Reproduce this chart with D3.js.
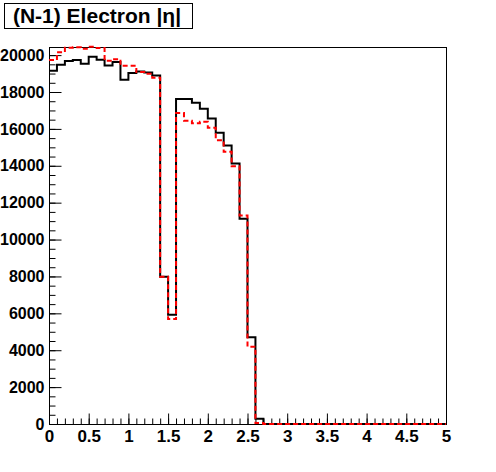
<!DOCTYPE html>
<html>
<head>
<meta charset="utf-8">
<script src="https://cdn.jsdelivr.net/npm/d3@7"></script>
<style>
  body { margin: 0; background: #fff; }
  svg text { font-family: "Liberation Sans", Arial, sans-serif; font-weight: bold; }
</style>
</head>
<body>
<div class="visHolder"></div>
<script>
// Histogram data: 50 bins of width 0.1 from 0 to 5
var binEdgesMin = 0, binEdgesMax = 5, binCount = 50;

var blackCounts = [19150, 19475, 19675, 19730, 19530, 19910, 19745, 19440, 19620, 18660,
  19025, 19115, 19060, 18900, 7985, 5925, 17615, 17615, 17415, 17090,
  16570, 15790, 15105, 14130, 11130, 4700, 290, 0, 0, 0,
  0, 0, 0, 0, 0, 0, 0, 0, 0, 0,
  0, 0, 0, 0, 0, 0, 0, 0, 0, 0];

var redCounts = [19730, 20160, 20400, 20420, 20340, 20450, 20380, 19690, 19780, 19430,
  19430, 19080, 18990, 18770, 7985, 5690, 16860, 16440, 16300, 16385,
  16060, 15390, 14760, 13980, 11310, 4190, 50, 0, 0, 0,
  0, 0, 0, 0, 0, 0, 0, 0, 0, 0,
  0, 0, 0, 0, 0, 0, 0, 0, 0, 0];

var xMajorTicks = [0, 0.5, 1, 1.5, 2, 2.5, 3, 3.5, 4, 4.5, 5];
var yMajorTicks = [0, 2000, 4000, 6000, 8000, 10000, 12000, 14000, 16000, 18000, 20000];
var yMax = 20440;

var titleText = '(N-1) Electron |\u03b7|';

// Frame dimensions (don't call these top/left: window.top is read-only)
var frameL = 49, frameR = 446, frameT = 47, frameB = 424;

var svg = d3.select('.visHolder').
append('svg').
attr('width', 496).
attr('height', 472);

var xScale = d3.scaleLinear().domain([binEdgesMin, binEdgesMax]).range([frameL, frameR]);
var yScale = d3.scaleLinear().domain([0, yMax]).range([frameB, frameT]);

var binWidth = (binEdgesMax - binEdgesMin) / binCount;

// Build the step outline of a histogram (no closing verticals at the frame edges)
function stepPath(counts) {
  var pts = [];
  counts.forEach(function (c, i) {
    var x0 = xScale(binEdgesMin + i * binWidth);
    var x1 = xScale(binEdgesMin + (i + 1) * binWidth);
    pts.push([x0, yScale(c)]);
    pts.push([x1, yScale(c)]);
  });
  return d3.line()(pts);
}

// Frame
svg.append('rect').
attr('x', frameL + 0.5).
attr('y', frameT + 0.5).
attr('width', frameR - frameL).
attr('height', frameB - frameT).
attr('fill', '#fff').
attr('stroke', '#000').
attr('stroke-width', 1);

// Y axis major + minor ticks (pointing inward)
var yMinor = d3.range(0, yMax, 500);
svg.append('g').
attr('transform', 'translate(' + (frameL + 0.5) + ',0)').
call(d3.axisLeft(yScale).tickValues(yMinor).tickSize(-6).tickFormat('')).
call(function (g) { g.select('.domain').remove(); });

svg.append('g').
attr('transform', 'translate(' + (frameL + 0.5) + ',0)').
call(d3.axisLeft(yScale).tickValues(yMajorTicks).tickSize(-12).tickPadding(5).tickFormat(d3.format('d'))).
call(function (g) {
  g.select('.domain').remove();
  g.selectAll('text').style('font-size', '16px').attr('fill', '#000');
});

// X axis major + minor ticks
var xMinor = d3.range(0, 50).map(function (i) { return i * 0.1; });
svg.append('g').
attr('transform', 'translate(0,' + (frameB + 0.5) + ')').
call(d3.axisBottom(xScale).tickValues(xMinor).tickSize(-6).tickFormat('')).
call(function (g) { g.select('.domain').remove(); });

svg.append('g').
attr('transform', 'translate(0,' + (frameB + 0.5) + ')').
call(d3.axisBottom(xScale).tickValues(xMajorTicks).tickSize(-11).tickPadding(5).tickFormat(d3.format('~g'))).
call(function (g) {
  g.select('.domain').remove();
  g.selectAll('text').style('font-size', '17px').attr('fill', '#000');
});

// Histograms: black solid first, red dashed on top
svg.append('path').
attr('d', stepPath(blackCounts)).
attr('fill', 'none').
attr('stroke', '#000').
attr('stroke-width', 2);

svg.append('path').
attr('d', stepPath(redCounts)).
attr('fill', 'none').
attr('stroke', '#ff0000').
attr('stroke-width', 2).
attr('stroke-dasharray', '5,3');

// Title box
svg.append('rect').
attr('x', 4.5).
attr('y', 3.5).
attr('width', 188).
attr('height', 25).
attr('fill', '#fff').
attr('stroke', '#000');

svg.append('text').
attr('x', 97).
attr('y', 23).
attr('text-anchor', 'middle').
style('font-size', '21px').
text(titleText);
</script>
</body>
</html>
